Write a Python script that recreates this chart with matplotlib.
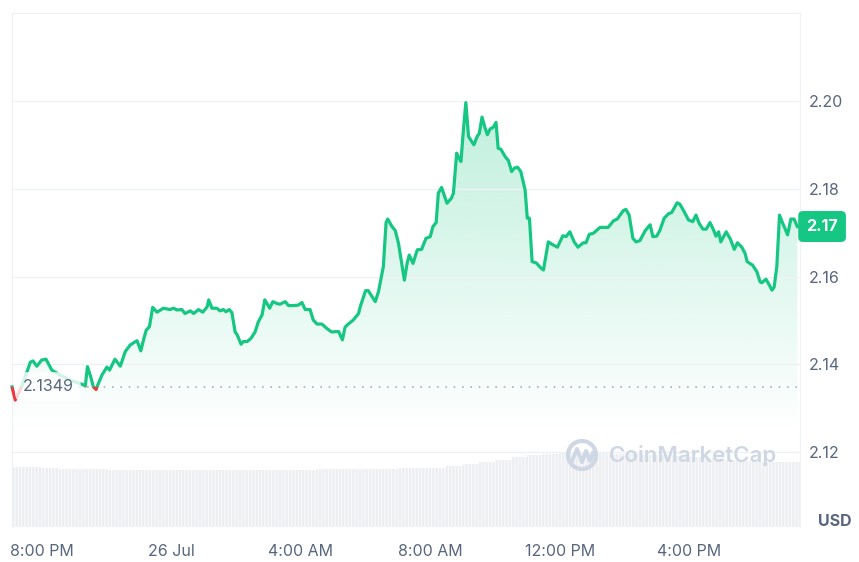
import matplotlib.pyplot as plt
import matplotlib.dates as mdates
import numpy as np
import pandas as pd
from matplotlib.patches import Rectangle, Circle
from matplotlib.transforms import IdentityTransform, blended_transform_factory

# price: minutes after 25 Jul 19:00 and price in USD
minutes = [4, 10, 23, 38, 43, 50, 59, 67, 74, 78, 93, 112, 134, 140, 144, 150, 155, 160, 163, 171,
           180, 185, 195, 205, 214, 223, 233, 236, 243, 248, 253, 259, 265, 273, 285, 297, 304, 310, 319, 325,
           335, 341, 350, 358, 366, 369, 375, 384, 390, 396, 401, 407, 412, 418, 422, 429, 433, 440, 447, 455,
           461, 468, 473, 477, 482, 488, 495, 501, 511, 517, 526, 535, 542, 548, 557, 563, 570, 579, 588, 597,
           610, 617, 622, 628, 637, 647, 650, 660, 665, 678, 684, 690, 693, 698, 701, 709, 715, 721, 727, 732,
           737, 741, 748, 756, 764, 772, 780, 785, 791, 795, 801, 811, 819, 823, 829, 832, 837, 841, 846, 851,
           857, 861, 867, 871, 876, 881, 886, 891, 897, 902, 906, 911, 919, 925, 931, 936, 942, 948, 956, 960,
           964, 969, 977, 984, 990, 999, 1008, 1016, 1026, 1032, 1039, 1047, 1054, 1064, 1069, 1075, 1083, 1095, 1110, 1120,
           1127, 1138, 1143, 1149, 1156, 1162, 1169, 1179, 1188, 1193, 1200, 1206, 1214, 1222, 1228, 1238, 1243, 1251, 1259, 1267,
           1273, 1279, 1286, 1292, 1299, 1305, 1310, 1315, 1319, 1329, 1337, 1344, 1350, 1358, 1364, 1368, 1378, 1386, 1392, 1395,
           1403, 1409, 1414, 1418, 1423, 1428, 1434, 1438, 1443, 1449, 1455, 1461]
price = [2.1349, 2.1319, 2.1353, 2.1405, 2.1408, 2.1396, 2.1410, 2.1412, 2.1396, 2.1387, 2.1376, 2.1364, 2.1355, 2.1351, 2.1395, 2.1372, 2.1349, 2.1343, 2.1353, 2.1376,
         2.1394, 2.1387, 2.1412, 2.1396, 2.1429, 2.1444, 2.1452, 2.1454, 2.1431, 2.1456, 2.1478, 2.1486, 2.1530, 2.1519, 2.1528, 2.1525, 2.1528, 2.1524, 2.1525, 2.1516,
         2.1522, 2.1516, 2.1525, 2.1519, 2.1531, 2.1547, 2.1528, 2.1528, 2.1522, 2.1525, 2.1520, 2.1525, 2.1518, 2.1474, 2.1467, 2.1446, 2.1452, 2.1452, 2.1459, 2.1474,
         2.1497, 2.1513, 2.1547, 2.1539, 2.1528, 2.1543, 2.1539, 2.1537, 2.1543, 2.1534, 2.1534, 2.1535, 2.1541, 2.1525, 2.1525, 2.1501, 2.1492, 2.1492, 2.1482, 2.1474,
         2.1475, 2.1456, 2.1485, 2.1492, 2.1501, 2.1516, 2.1531, 2.1568, 2.1568, 2.1543, 2.1566, 2.1604, 2.1623, 2.1723, 2.1731, 2.1714, 2.1705, 2.1676, 2.1630, 2.1592,
         2.1630, 2.1649, 2.1630, 2.1661, 2.1662, 2.1687, 2.1691, 2.1714, 2.1723, 2.1790, 2.1803, 2.1767, 2.1778, 2.1790, 2.1881, 2.1873, 2.1862, 2.1926, 2.1996, 2.1919,
         2.1907, 2.1900, 2.1919, 2.1926, 2.1963, 2.1941, 2.1923, 2.1936, 2.1940, 2.1951, 2.1892, 2.1890, 2.1873, 2.1864, 2.1839, 2.1847, 2.1849, 2.1839, 2.1797, 2.1733,
         2.1733, 2.1634, 2.1631, 2.1621, 2.1615, 2.1679, 2.1672, 2.1667, 2.1693, 2.1691, 2.1702, 2.1679, 2.1667, 2.1677, 2.1677, 2.1696, 2.1699, 2.1712, 2.1712, 2.1727,
         2.1731, 2.1750, 2.1753, 2.1740, 2.1687, 2.1679, 2.1682, 2.1705, 2.1718, 2.1691, 2.1692, 2.1705, 2.1733, 2.1743, 2.1746, 2.1768, 2.1765, 2.1748, 2.1729, 2.1725,
         2.1740, 2.1721, 2.1708, 2.1708, 2.1723, 2.1708, 2.1692, 2.1702, 2.1679, 2.1702, 2.1685, 2.1662, 2.1677, 2.1667, 2.1653, 2.1634, 2.1626, 2.1611, 2.1588, 2.1586,
         2.1594, 2.1581, 2.1569, 2.1576, 2.1623, 2.1740, 2.1721, 2.1710, 2.1695, 2.1731, 2.1731, 2.1714]

# 24h volume bars (billion USD), every 30 min
vol_minutes = [15, 45, 75, 105, 135, 165, 195, 225, 255, 285, 315, 345, 375, 405, 435, 465, 495,
               525, 555, 585, 615, 645, 675, 705, 735, 765, 795, 825, 855, 885, 915, 945, 975,
               1005, 1035, 1065, 1095, 1125, 1155, 1185, 1215, 1245, 1275, 1305, 1335, 1365, 1395, 1425, 1455]
volume = [5.00, 5.00, 4.92, 4.85, 4.83, 4.82, 4.79, 4.78, 4.76, 4.75, 4.75, 4.74, 4.75, 4.76, 4.75, 4.76, 4.77,
          4.78, 4.79, 4.81, 4.83, 4.84, 4.85, 4.86, 4.88, 4.91, 4.94, 5.05, 5.22, 5.40, 5.62, 5.85, 6.02,
          6.10, 6.16, 6.17, 6.15, 6.12, 6.08, 6.03, 5.97, 5.90, 5.82, 5.72, 5.62, 5.52, 5.44, 5.40, 5.42]

baseline = 2.1349
y_ticks = [2.12, 2.14, 2.16, 2.18, 2.20]
tick_minutes = [60, 300, 540, 780, 1020, 1260]
tick_labels = ["8:00 PM", "26 Jul", "4:00 AM", "8:00 AM", "12:00 PM", "4:00 PM"]

GREEN = "#16c784"
RED = "#ea3943"
GREY = "#58667e"
LINE = "#eff2f5"

plt.rcParams['font.family'] = ['Inter', 'DejaVu Sans']

start = pd.Timestamp("2025-07-25 19:00")
t = mdates.date2num(start + pd.to_timedelta(minutes, unit="min"))
tv = mdates.date2num(start + pd.to_timedelta(vol_minutes, unit="min"))
tt = mdates.date2num(start + pd.to_timedelta(tick_minutes, unit="min"))

fig = plt.figure(figsize=(8.59, 5.62), dpi=100)
ax2 = fig.add_axes([12/859, 35/562, 788/859, 514/562])
ax = fig.add_axes([12/859, 35/562, 788/859, 514/562], sharex=ax2)
ax.patch.set_visible(False)

x0, x1 = t[0], t[-1] + 5/1440
y0, y1 = 2.103, 2.220

# volume
plt.rcParams['hatch.linewidth'] = 0.6
ax2.bar(tv, volume, width=30/1440, color="#eceef2", edgecolor="white", linewidth=0, hatch="|||||")
ax2.set_ylim(0, 514/12)
ax2.axis('off')

# gradient fill under the line
poly = ax.fill_between(t, price, y0, color='none')
ys = np.linspace(y0, y1, 256)
grad = np.zeros((256, 1, 4))
grad[..., :3] = np.array([22, 199, 132]) / 255
grad[:, 0, 3] = np.clip(3.66 * (ys - 2.1245), 0, None)
im = ax.imshow(grad, extent=[x0, x1, y0, y1], origin='lower', aspect='auto', zorder=1)
im.set_clip_path(poly.get_paths()[0], transform=ax.transData)

# line, green above the opening price and red below
up, = ax.plot(t, price, color=GREEN, lw=2.3, zorder=3, solid_joinstyle='round')
dn, = ax.plot(t, price, color=RED, lw=2.3, zorder=3, solid_joinstyle='round')
up.set_clip_path(Rectangle((x0 - 1, baseline), 3, 1, transform=ax.transData))
dn.set_clip_path(Rectangle((x0 - 1, baseline - 1), 3, 1, transform=ax.transData))

ax.axhline(baseline, ls=(0, (1, 4)), color="#a6b0c3", lw=1.2, zorder=2)
bt = blended_transform_factory(ax.transAxes, ax.transData)
ax.text(0.0457, baseline, "2.1349", transform=bt, ha='center', va='center', fontsize=11.5,
        color=GREY, zorder=5,
        bbox=dict(boxstyle='round,pad=0.45', fc='white', ec='none', alpha=0.8))

ax.set_xlim(x0, x1)
ax.set_ylim(y0, y1)
ax.set_yticks(y_ticks)
ax.set_yticklabels([f"{v:.2f}" for v in y_ticks])
ax.yaxis.tick_right()
ax.set_xticks(tt)
ax.set_xticklabels(tick_labels)
ax.tick_params(axis='both', length=0, labelsize=11.5, labelcolor=GREY)
ax.tick_params(axis='x', pad=12)
ax.tick_params(axis='y', pad=6)
ax.grid(axis='y', color=LINE, lw=1)
for s in ['top', 'left', 'right']:
    ax.spines[s].set_color(LINE)
ax.spines['bottom'].set_visible(False)

# current price tag
ax.annotate(f"{price[-1]:.2f}", xy=(1.028, price[-1]), xycoords=bt, ha='center', va='center',
            fontsize=11.5, fontweight='bold', color='white', annotation_clip=False, zorder=6,
            bbox=dict(boxstyle='round,pad=0.5,rounding_size=0.3', fc=GREEN, ec='none'))

fig.text(835/859, 1 - 521/562, "USD", ha='center', va='center', fontsize=11.5,
         fontweight='bold', color=GREY)

# watermark
wm = "#cfd6e4"
fig.add_artist(Circle((582, 107), 14, transform=IdentityTransform(), fill=False, ec=wm, lw=3))
fig.add_artist(plt.Line2D([572, 577, 582, 586, 590, 593], [101, 113, 100, 111, 101, 109],
                          transform=IdentityTransform(), color=wm, lw=2.8, solid_joinstyle='round'))
fig.text(693/859, 1 - 456/562, "CoinMarketCap", ha='center', va='center', fontsize=16,
         fontweight='semibold', color=wm)

fig.savefig("out.png", dpi=100, facecolor='white')
